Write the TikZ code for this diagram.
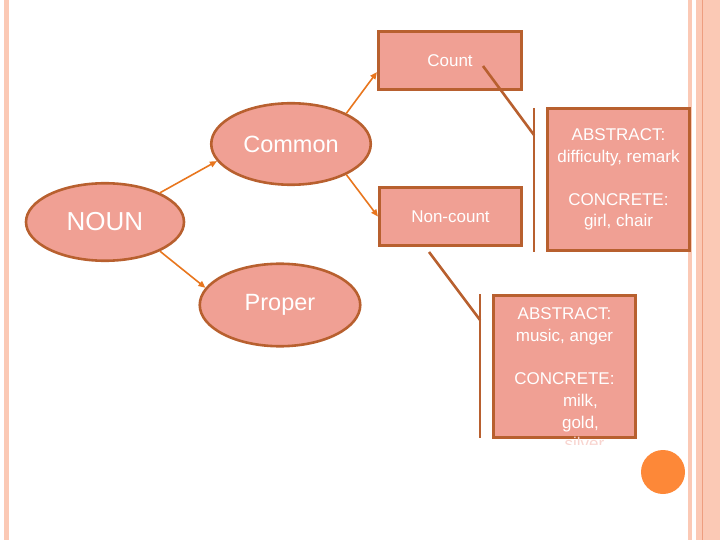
\documentclass[tikz,border=0pt]{standalone}
\usepackage{fontspec}
\setmainfont{Liberation Sans}
\usetikzlibrary{arrows.meta,calc,positioning,shapes.geometric}
\definecolor{boxfill}{HTML}{F0A094}
\definecolor{boxline}{HTML}{B8602F}
\definecolor{arrowline}{HTML}{E8761E}
\definecolor{stripe}{HTML}{FBC9B5}
\definecolor{stripedark}{HTML}{EE9E80}
\definecolor{dotfill}{HTML}{FD8838}

\begin{document}
\begin{tikzpicture}[x=1pt,y=-1pt,>={Triangle[length=7pt,width=6pt]},
  oval/.style={ellipse,draw=boxline,line width=2.6pt,fill=boxfill,text=white,inner sep=0pt},
  card/.style={rectangle,draw=boxline,line width=2.6pt,fill=boxfill,text=white,inner sep=0pt,
    font=\fontsize{17}{21.5}\selectfont,align=center},
  link/.style={->,arrowline,line width=1.6pt},
  brace/.style={boxline,line width=2.6pt}]
  \useasboundingbox (0,0) rectangle (720,540);
  % page stripes
  \fill[stripe] (4,0) rectangle (8.5,540);
  \fill[stripe] (688,0) rectangle (692,540);
  \fill[stripe] (696,0) rectangle (720,540);
  \draw[stripedark,line width=0.8pt] (702,0) -- (702,540);
  \fill[dotfill] (663,472) circle (22);

  % ovals
  \node[oval,minimum width=158,minimum height=77.5,font=\fontsize{26}{30}\selectfont] (noun) at (105,222) {NOUN};
  \node[oval,minimum width=159.5,minimum height=81.5,font=\fontsize{23.5}{28}\selectfont] (common) at (291,144) {Common};
  \node[oval,minimum width=160.5,minimum height=82.5,font=\fontsize{23.5}{28}\selectfont] (proper) at (280,305) {Proper};

  % boxes
  \node[card,minimum width=143.5,minimum height=58.5] (count) at (450,60.5) {Count};
  \node[card,minimum width=142.5,minimum height=58.5] (noncount) at (450.5,216.5) {Non-count};
  \node[card,minimum width=142,minimum height=142.5] (countkinds) at (618.5,179.5)
    {ABSTRACT:\\difficulty, remark\\[21.5pt]CONCRETE:\\girl, chair};
  \node[card,minimum width=142.5,minimum height=142.5] (masskinds) at (564.5,366.5) {};
  \begin{scope}
    \clip (480,290) rectangle (650,444);
    \node[text=white,font=\fontsize{17}{21.7}\selectfont,align=center,inner sep=0pt] (masstext) at (564.5,379)
      {ABSTRACT:\\music, anger\\[21.7pt]CONCRETE:\\\hspace*{32pt}milk,\\\hspace*{32pt}gold,\\
       \hspace*{40pt}\textcolor{boxfill!45!white}{silver}};
  \end{scope}

  % arrows
  \draw[link] (noun.28) -- (common.193);
  \draw[link] (noun.332) -- (proper.167);
  \draw[link] (common.29) -- (count.189);
  \draw[link] (common.331) -- (noncount.west);

  % brackets
  \coordinate (counttail) at (483,66);
  \coordinate (countbar top) at (534,108);
  \coordinate (countbar mid) at (534,135);
  \coordinate (countbar bot) at (534,252);
  \draw[brace] (counttail) -- (countbar mid);
  \draw[brace] (countbar top) -- (countbar bot);
  \coordinate (masstail) at (429,252);
  \coordinate (massbar top) at (480,294);
  \coordinate (massbar mid) at (480,320);
  \coordinate (massbar bot) at (480,438);
  \draw[brace] (masstail) -- (massbar mid);
  \draw[brace] (massbar top) -- (massbar bot);
\end{tikzpicture}
\end{document}
